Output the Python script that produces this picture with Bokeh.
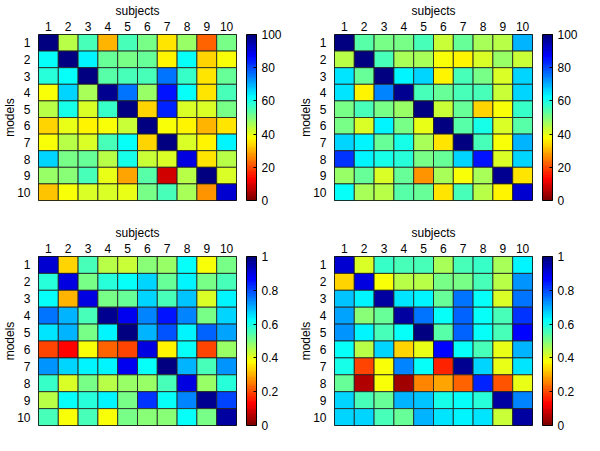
from bokeh.plotting import figure
from bokeh.models import ColumnDataSource, LinearColorMapper, ColorBar, FixedTicker, Range1d, LinearAxis
from bokeh.layouts import column, row
from bokeh.embed import file_html
from bokeh.resources import INLINE

subjects = list(range(1, 11))
models = list(range(1, 11))

cb_ticks_pct = [0, 20, 40, 60, 80, 100]
cb_labels_pct = ["0", "20", "40", "60", "80", "100"]
cb_ticks_unit = [0, 0.2, 0.4, 0.6, 0.8, 1.0]
cb_labels_unit = ["0", "0.2", "0.4", "0.6", "0.8", "1"]

# rows = models 1..10, columns = subjects 1..10
top_left = [
    [100, 44, 56, 31, 55, 50, 35, 48, 22, 50],
    [61, 100, 63, 52, 50, 52, 36, 62, 33, 38],
    [59, 61, 100, 54, 55, 55, 76, 57, 35, 53],
    [38, 67, 46, 98, 76, 48, 85, 62, 35, 55],
    [45, 60, 42, 57, 100, 34, 84, 41, 41, 50],
    [34, 40, 37, 39, 43, 100, 38, 37, 31, 35],
    [39, 45, 42, 55, 61, 34, 100, 42, 37, 63],
    [67, 50, 53, 45, 60, 43, 42, 90, 35, 45],
    [48, 49, 55, 40, 29, 54, 8, 44, 99, 42],
    [32, 39, 41, 42, 40, 50, 55, 46, 27, 91],
]
top_right = [
    [100, 54, 51, 51, 55, 43, 52, 46, 44, 69],
    [44, 100, 55, 46, 46, 39, 37, 41, 48, 43],
    [65, 52, 100, 63, 67, 37, 55, 50, 41, 66],
    [65, 37, 74, 98, 55, 52, 56, 55, 43, 66],
    [50, 56, 51, 48, 100, 43, 53, 33, 39, 57],
    [50, 42, 63, 50, 40, 100, 54, 60, 42, 54],
    [66, 63, 52, 60, 46, 35, 100, 56, 38, 69],
    [82, 63, 60, 58, 50, 53, 67, 85, 41, 67],
    [47, 53, 41, 52, 28, 46, 38, 46, 98, 35],
    [62, 46, 45, 54, 52, 35, 56, 45, 37, 92],
]
bottom_left = [
    [0.92, 0.34, 0.56, 0.44, 0.43, 0.49, 0.47, 0.62, 0.39, 0.50],
    [0.58, 0.90, 0.50, 0.59, 0.62, 0.67, 0.53, 0.64, 0.50, 0.55],
    [0.62, 0.31, 0.90, 0.50, 0.53, 0.66, 0.55, 0.68, 0.41, 0.64],
    [0.75, 0.70, 0.55, 0.98, 0.88, 0.74, 0.85, 0.74, 0.50, 0.66],
    [0.65, 0.70, 0.50, 0.64, 1.00, 0.70, 0.79, 0.64, 0.77, 0.71],
    [0.19, 0.13, 0.39, 0.23, 0.20, 0.90, 0.36, 0.62, 0.20, 0.48],
    [0.73, 0.66, 0.64, 0.64, 0.89, 0.61, 1.00, 0.70, 0.55, 0.73],
    [0.57, 0.42, 0.50, 0.45, 0.48, 0.47, 0.55, 0.90, 0.48, 0.58],
    [0.45, 0.62, 0.58, 0.63, 0.50, 0.82, 0.61, 0.74, 0.98, 0.80],
    [0.56, 0.38, 0.55, 0.38, 0.51, 0.49, 0.49, 0.62, 0.51, 0.96],
]
bottom_right = [
    [0.92, 0.41, 0.57, 0.56, 0.56, 0.46, 0.55, 0.57, 0.46, 0.63],
    [0.34, 0.90, 0.39, 0.44, 0.44, 0.51, 0.51, 0.56, 0.45, 0.72],
    [0.68, 0.64, 0.96, 0.65, 0.63, 0.52, 0.76, 0.62, 0.41, 0.76],
    [0.71, 0.49, 0.53, 0.96, 0.76, 0.62, 0.78, 0.62, 0.56, 0.82],
    [0.73, 0.63, 0.56, 0.62, 1.00, 0.54, 0.77, 0.62, 0.55, 0.86],
    [0.61, 0.44, 0.66, 0.34, 0.40, 0.86, 0.62, 0.55, 0.40, 0.70],
    [0.60, 0.20, 0.38, 0.74, 0.62, 0.16, 0.98, 0.67, 0.40, 0.65],
    [0.53, 0.06, 0.38, 0.04, 0.26, 0.29, 0.22, 0.84, 0.21, 0.40],
    [0.66, 0.56, 0.53, 0.70, 0.68, 0.60, 0.62, 0.59, 0.96, 0.74],
    [0.66, 0.66, 0.55, 0.52, 0.69, 0.65, 0.63, 0.65, 0.43, 0.96],
]


def jet_reversed(n=64):
    def clip(v):
        return max(0.0, min(1.0, v))
    out = []
    for i in range(n):
        t = 1.0 - i / (n - 1)
        r = clip(min(4 * t - 1.5, -4 * t + 4.5))
        g = clip(min(4 * t - 0.5, -4 * t + 3.5))
        b = clip(min(4 * t + 0.5, -4 * t + 2.5))
        out.append("#%02x%02x%02x" % (round(r * 255), round(g * 255), round(b * 255)))
    return out


PAL = jet_reversed(64)
FONT = "Liberation Sans"


def make_panel(values, high, ticks, labels, height, bottom):
    xs, ys, vs = [], [], []
    for mi, rowv in enumerate(values):
        for si, v in enumerate(rowv):
            xs.append(subjects[si])
            ys.append(models[mi])
            vs.append(v)
    src = ColumnDataSource(dict(x=xs, y=ys, v=vs))
    mapper = LinearColorMapper(palette=PAL, low=0, high=high)
    p = figure(width=296, height=height,
               x_range=Range1d(0.5, 10.5), y_range=Range1d(10.5, 0.5),
               x_axis_location="above", output_backend="svg", toolbar_location=None,
               min_border_left=32, min_border_right=60, min_border_top=0,
               min_border_bottom=bottom)
    p.rect(x="x", y="y", width=1, height=1, source=src,
           fill_color={"field": "v", "transform": mapper},
           line_color="#222222", line_alpha=0.85, line_width=1)
    p.grid.visible = False
    p.outline_line_color = "black"
    p.outline_line_width = 1
    for ax in (p.xaxis[0], p.yaxis[0]):
        ax.ticker = FixedTicker(ticks=subjects if ax is p.xaxis[0] else models)
        ax.axis_line_color = None
        ax.major_tick_line_color = None
        ax.minor_tick_line_color = None
        ax.major_label_text_font = FONT
        ax.major_label_text_font_size = "12px"
        ax.major_label_text_color = "black"
        ax.major_label_standoff = 2
        ax.axis_label_text_font = FONT
        ax.axis_label_text_font_size = "12px"
        ax.axis_label_text_font_style = "normal"
        ax.axis_label_text_color = "black"
        ax.axis_label_standoff = 1
    p.xaxis.major_label_standoff = -2
    p.yaxis.axis_label_standoff = -3
    p.xaxis.axis_label = "subjects"
    p.yaxis.axis_label = "models"

    # undrawn axis that only reserves a 10px gap between heatmap and colour bar
    spacer = LinearAxis(ticker=FixedTicker(ticks=[5.5]), axis_line_color=None,
                        major_tick_line_color=None, minor_tick_line_color=None,
                        major_tick_out=10, major_tick_in=0, major_label_standoff=0,
                        major_label_overrides={5.5: ""}, major_label_text_color=None)
    p.add_layout(spacer, "right")

    cb = ColorBar(color_mapper=mapper, ticker=FixedTicker(ticks=ticks),
                  major_label_overrides={t: l for t, l in zip(ticks, labels)},
                  width=10, margin=0, padding=0,
                  bar_line_color="black", major_tick_line_color="black",
                  major_tick_in=3, major_tick_out=0, minor_tick_line_color=None,
                  major_label_text_font=FONT, major_label_text_font_size="12px",
                  major_label_text_color="black", label_standoff=5,
                  background_fill_alpha=0, border_line_color=None)
    p.add_layout(cb, "right")
    return p


p1 = make_panel(top_left, 100, cb_ticks_pct, cb_labels_pct, 222, 22)
p2 = make_panel(top_right, 100, cb_ticks_pct, cb_labels_pct, 222, 22)
p3 = make_panel(bottom_left, 1, cb_ticks_unit, cb_labels_unit, 213, 10)
p4 = make_panel(bottom_right, 1, cb_ticks_unit, cb_labels_unit, 213, 10)

layout = column(row(p1, p2), row(p3, p4))
open("out.html", "w").write(file_html(layout, INLINE))
